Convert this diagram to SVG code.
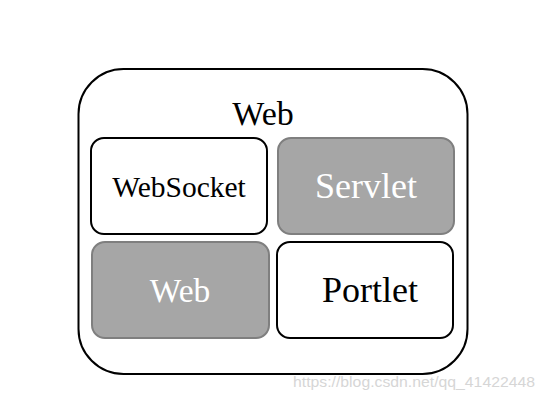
<svg xmlns="http://www.w3.org/2000/svg" width="545" height="401" viewBox="0 0 545 401">
<style>
.t{font-family:"Liberation Serif","Times New Roman",serif;text-anchor:middle}
.w{fill:#ffffff;stroke:#000;stroke-width:2}
.g{fill:#a6a6a6;stroke:#7f7f7f;stroke-width:2}
</style>
<rect width="545" height="401" fill="#fff"/>
<g id="outer">
<rect class="w" x="78.5" y="69" width="389" height="305" rx="45" ry="45"/>
<text class="t" x="263" y="125" font-size="34" fill="#000">Web</text>
</g>
<g id="websocket">
<rect class="w" x="91" y="138" width="176" height="96" rx="13" ry="13"/>
<text class="t" x="179" y="197" font-size="29.5" fill="#000">WebSocket</text>
</g>
<g id="servlet">
<rect class="g" x="278" y="138" width="176" height="96" rx="13" ry="13"/>
<text class="t" x="366" y="198" font-size="36" fill="#fff">Servlet</text>
</g>
<g id="web">
<rect class="g" x="92" y="242" width="177" height="96" rx="13" ry="13"/>
<text class="t" x="180" y="302" font-size="33.5" fill="#fff">Web</text>
</g>
<g id="portlet">
<rect class="w" x="277" y="242" width="176" height="96" rx="13" ry="13"/>
<text class="t" x="370" y="302" font-size="36" fill="#000">Portlet</text>
</g>
<g id="connectors"></g>
<text x="293" y="387" font-family="Liberation Sans, Arial, sans-serif" font-size="15" fill="#d6d6d6" textLength="242" lengthAdjust="spacingAndGlyphs">https://blog.csdn.net/qq_41422448</text>
</svg>
